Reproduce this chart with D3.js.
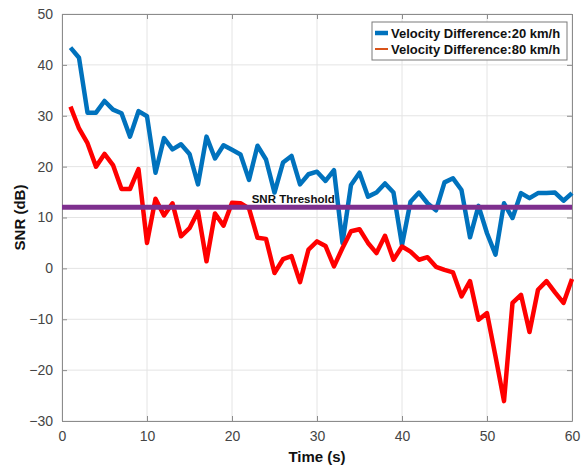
<!DOCTYPE html>
<html>
<head>
<meta charset="utf-8">
<script src="https://cdn.jsdelivr.net/npm/d3@7"></script>
<style>
  html, body { margin: 0; padding: 0; background: #fff; }
  svg { display: block; font-family: "Liberation Sans", Arial, sans-serif; }
</style>
</head>
<body>
<div id="chart"></div>
<script>
// time axis (s)
var times = d3.range(1, 61);

// SNR (dB), velocity difference 20 km/h
var snr20 = [43.4, 41.4, 30.6, 30.6, 32.9, 31.2, 30.5, 25.9, 30.9, 29.9,
             18.8, 25.6, 23.4, 24.4, 22.5, 16.5, 25.9, 21.6, 24.2, 23.3,
             22.4, 17.4, 24.1, 21.4, 14.9, 20.8, 22.1, 16.5, 18.5, 19.0,
             17.2, 19.3, 5.0, 16.4, 18.8, 14.1, 14.9, 16.7, 14.9, 4.6,
             13.1, 14.9, 12.8, 11.4, 16.9, 17.7, 15.4, 6.1, 12.3, 6.9,
             2.7, 12.8, 9.9, 14.8, 13.8, 14.8, 14.8, 14.9, 13.3, 14.8];

// SNR (dB), velocity difference 80 km/h
var snr80 = [31.8, 27.5, 24.6, 20.0, 22.5, 20.3, 15.6, 15.6, 19.5, 5.0,
             13.7, 10.4, 12.8, 6.3, 7.9, 11.2, 1.4, 10.8, 8.4, 12.9,
             12.8, 11.8, 6.0, 5.8, -0.9, 1.8, 2.4, -2.7, 3.7, 5.3,
             4.4, 0.4, 4.0, 7.3, 7.7, 5.0, 3.0, 6.4, 1.7, 4.3,
             3.3, 1.7, 2.2, 0.3, -0.3, -0.8, -5.5, -2.5, -10.1, -8.8,
             -17.3, -26.1, -6.8, -5.2, -12.5, -4.2, -2.5, -4.7, -6.8, -2.1];

var threshold = 12;
var xTicks = [0, 10, 20, 30, 40, 50, 60];
var yTicks = [-30, -20, -10, 0, 10, 20, 30, 40, 50];
var legendLabels = ["Velocity Difference:20 km/h", "Velocity Difference:80 km/h"];

var width = 581, height = 468;
var margin = {left: 62, right: 9, top: 14, bottom: 47};

var svg = d3.select("#chart").append("svg")
    .attr("width", width)
    .attr("height", height);

var x = d3.scaleLinear().domain([0, 60]).range([margin.left, width - margin.right]);
var y = d3.scaleLinear().domain([-30, 50]).range([height - margin.bottom, margin.top]);

// grid
var grid = svg.append("g").attr("class", "grid");
xTicks.forEach(function(t) {
    grid.append("line")
        .attr("x1", x(t)).attr("x2", x(t))
        .attr("y1", y(-30)).attr("y2", y(50))
        .style("stroke", "#e4e4e4").style("stroke-width", 1);
});
yTicks.forEach(function(t) {
    grid.append("line")
        .attr("x1", x(0)).attr("x2", x(60))
        .attr("y1", y(t)).attr("y2", y(t))
        .style("stroke", "#e4e4e4").style("stroke-width", 1);
});

// axes, ticks pointing inward like MATLAB
var axisColor = "#8c8c8c";
var xAxis = svg.append("g")
    .attr("transform", "translate(0," + y(-30) + ")")
    .call(d3.axisBottom(x).tickValues(xTicks).tickSizeInner(-5).tickSizeOuter(0).tickPadding(10));
var yAxis = svg.append("g")
    .attr("transform", "translate(" + x(0) + ",0)")
    .call(d3.axisLeft(y).tickValues(yTicks).tickSizeInner(-5).tickSizeOuter(0).tickPadding(9));
var rightAxis = svg.append("g")
    .attr("transform", "translate(" + x(60) + ",0)")
    .call(d3.axisRight(y).tickValues(yTicks).tickSizeInner(-5).tickSizeOuter(0).tickFormat(""));
var topAxis = svg.append("g")
    .attr("transform", "translate(0," + y(50) + ")")
    .call(d3.axisTop(x).tickValues(xTicks).tickSizeInner(-5).tickSizeOuter(0).tickFormat(""));

[xAxis, yAxis, rightAxis, topAxis].forEach(function(a) {
    a.selectAll("path, line").style("stroke", axisColor).style("stroke-width", 1);
    a.selectAll("text")
        .style("fill", "#454545")
        .style("font-size", "14px")
        .style("font-family", "\"Liberation Sans\", Arial, sans-serif");
});

// series lines
var line = d3.line()
    .x(function(d) { return x(d[0]); })
    .y(function(d) { return y(d[1]); });

svg.append("path")
    .datum(d3.zip(times, snr20))
    .attr("d", line)
    .style("fill", "none")
    .style("stroke", "#0072BD")
    .style("stroke-width", 4.5)
    .style("stroke-linejoin", "round");

svg.append("path")
    .datum(d3.zip(times, snr80))
    .attr("d", line)
    .style("fill", "none")
    .style("stroke", "#FF0000")
    .style("stroke-width", 4.5)
    .style("stroke-linejoin", "round");

// threshold
svg.append("line")
    .attr("x1", x(0)).attr("x2", x(60))
    .attr("y1", y(threshold)).attr("y2", y(threshold))
    .style("stroke", "#7E2F8E")
    .style("stroke-width", 5);

svg.append("text")
    .attr("x", x(27.2))
    .attr("y", y(threshold) - 4)
    .attr("text-anchor", "middle")
    .style("font-size", "11.5px")
    .style("font-weight", "bold")
    .style("fill", "#111")
    .text("SNR Threshold");

// axis labels
svg.append("text")
    .attr("x", x(30))
    .attr("y", 462)
    .attr("text-anchor", "middle")
    .style("font-size", "15px")
    .style("font-weight", "bold")
    .style("fill", "#111")
    .text("Time (s)");

svg.append("text")
    .attr("transform", "translate(25," + y(10) + ") rotate(-90)")
    .attr("text-anchor", "middle")
    .style("font-size", "15px")
    .style("font-weight", "bold")
    .style("fill", "#111")
    .text("SNR (dB)");

// legend
var legend = svg.append("g").attr("transform", "translate(372,22)");
legend.append("rect")
    .attr("width", 195).attr("height", 38)
    .style("fill", "#fff")
    .style("stroke", "#7a7a7a")
    .style("stroke-width", 1);

var legendStyles = [
    {color: "#0072BD", w: 4.5},
    {color: "#D95319", w: 2}
];
legendLabels.forEach(function(label, i) {
    var ly = 11 + i * 16;
    legend.append("line")
        .attr("x1", 3).attr("x2", 16)
        .attr("y1", ly).attr("y2", ly)
        .style("stroke", legendStyles[i].color)
        .style("stroke-width", legendStyles[i].w);
    legend.append("text")
        .attr("x", 19)
        .attr("y", ly + 4.5)
        .style("font-size", "13px")
        .style("font-weight", "bold")
        .style("fill", "#111")
        .text(label);
});
</script>
</body>
</html>
